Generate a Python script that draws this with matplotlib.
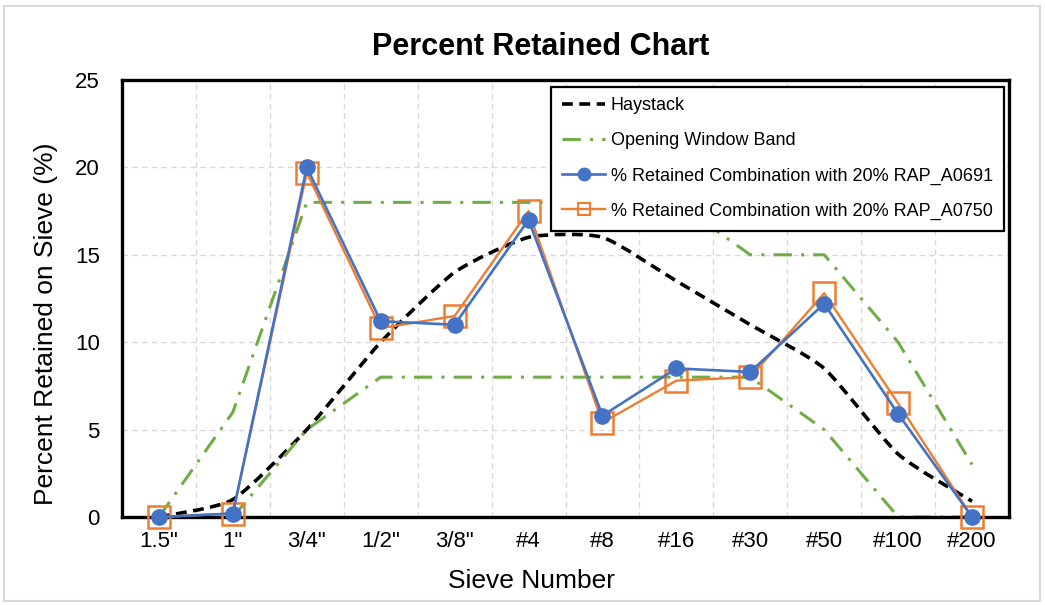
import matplotlib.pyplot as plt
import numpy as np
from matplotlib.path import Path
from matplotlib.patches import PathPatch, Rectangle
from matplotlib.lines import Line2D

plt.rcParams['font.family'] = ['Liberation Sans', 'DejaVu Sans']

sieves = ['1.5"', '1"', '3/4"', '1/2"', '3/8"', '#4', '#8', '#16', '#30', '#50', '#100', '#200']
haystack = [0, 1, 5, 10, 14, 16, 16, 13.5, 11, 8.5, 3.6, 0.9]
band_upper = [0, 6, 18, 18, 18, 18, 18, 18, 15, 15, 10, 3]
band_lower = [None, 0, 5, 8, 8, 8, 8, 8, 8, 5, 0, 0]
rap_a0691 = [0, 0.2, 20, 11.2, 11, 17, 5.8, 8.5, 8.3, 12.2, 5.9, 0]
rap_a0750 = [0, 0.2, 19.7, 10.8, 11.5, 17.5, 5.4, 7.8, 8.0, 12.8, 6.5, 0]

blue = '#4472C4'
orange = '#ED7D31'
green = '#70AD47'


def smooth_path(xs, ys, t=1 / 6):
    # smoothed line as bezier segments through the points
    pts = [(x, y) for x, y in zip(xs, ys) if y is not None]
    verts = [pts[0]]
    codes = [Path.MOVETO]
    n = len(pts)
    for i in range(n - 1):
        p0 = pts[i - 1] if i > 0 else pts[i]
        p1 = pts[i]
        p2 = pts[i + 1]
        p3 = pts[i + 2] if i + 2 < n else pts[i + 1]
        c1 = (p1[0] + (p2[0] - p0[0]) * t, p1[1] + (p2[1] - p0[1]) * t)
        c2 = (p2[0] - (p3[0] - p1[0]) * t, p2[1] - (p3[1] - p1[1]) * t)
        verts += [c1, c2, p2]
        codes += [Path.CURVE4] * 3
    return Path(verts, codes)


fig = plt.figure(figsize=(10.45, 6.05), dpi=100)
ax = fig.add_axes([122 / 1045, 1 - 517 / 605, 887 / 1045, 437 / 605])

x = np.arange(1, len(sieves) + 1)

hay_style = dict(color='black', lw=2.6, linestyle=(0, (3, 1.8)))
band_style = dict(color=green, lw=2.2, linestyle=(0, (6, 3, 1, 3)))

ax.add_patch(PathPatch(smooth_path(x, haystack, 0.1), fill=False, zorder=2, **hay_style))
ax.plot(x, band_upper, zorder=2, **band_style)
ax.plot(x, band_lower, zorder=2, **band_style)

ax.plot(x, rap_a0750, color=orange, lw=1.7, marker='s', markersize=15.5,
        markerfacecolor='none', markeredgecolor=orange, markeredgewidth=1.8,
        zorder=3, clip_on=False)
ax.plot(x, rap_a0691, color=blue, lw=1.9, marker='o', markersize=11,
        markerfacecolor=blue, markeredgecolor=blue, zorder=4, clip_on=False)

ax.set_xlim(0.5, 12.5)
ax.set_ylim(0, 25)
ax.set_xticks(x)
ax.set_xticklabels(sieves)
ax.set_yticks(range(0, 26, 5))
ax.set_xticks(np.arange(0.5, 12.6, 0.5), minor=True)
ax.tick_params(axis='both', which='both', length=0, labelsize=16, pad=10)
ax.tick_params(axis='y', pad=16)
ax.grid(True, axis='x', which='minor', color='#d9d9d9', linestyle=(0, (4, 3)), lw=1)
ax.grid(True, axis='y', which='major', color='#d9d9d9', linestyle=(0, (4, 3)), lw=1)
ax.set_axisbelow(True)
for s in ax.spines.values():
    s.set_color('black')
    s.set_linewidth(2.4)

fig.text(532 / 1045, 1 - 581 / 605, 'Sieve Number', fontsize=19,
         ha='center', va='center')
fig.text(46 / 1045, 1 - 324 / 605, 'Percent Retained on Sieve (%)', fontsize=19,
         rotation=90, ha='center', va='center')
fig.text(541 / 1045, 1 - 47 / 605, 'Percent Retained Chart', fontsize=22,
         fontweight='bold', ha='center', va='center')

handles = [
    Line2D([], [], **hay_style),
    Line2D([], [], **band_style),
    Line2D([], [], color=blue, lw=1.9, marker='o', markersize=9),
    Line2D([], [], color=orange, lw=1.7, marker='s', markersize=9,
           markerfacecolor='none', markeredgewidth=1.5),
]
labels = ['Haystack', 'Opening Window Band',
          '% Retained Combination with 20% RAP_A0691',
          '% Retained Combination with 20% RAP_A0750']
leg = ax.legend(handles, labels, loc='upper right', bbox_to_anchor=(0.994, 0.985),
                fontsize=13, frameon=True, fancybox=False, framealpha=1,
                edgecolor='black', handlelength=2.4, handletextpad=0.3,
                labelspacing=1.0, borderpad=0.6, borderaxespad=0)
leg.get_frame().set_linewidth(1.6)
leg.set_zorder(10)

fig.patches.append(Rectangle((4 / 1045, 4 / 605), 1036 / 1045, 595 / 605,
                             transform=fig.transFigure, fill=False,
                             edgecolor='#d9d9d9', lw=1.5))

fig.savefig('out.png', dpi=100, facecolor='white')
